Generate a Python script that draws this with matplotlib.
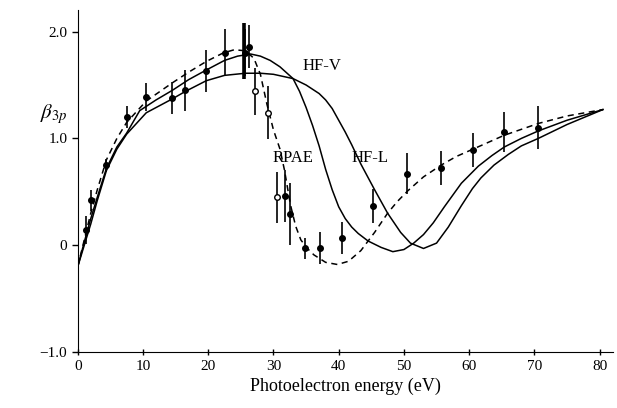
import numpy as np
import matplotlib; matplotlib.use('Agg')
import matplotlib.pyplot as plt

plt.rcParams['font.family'] = ['Liberation Serif', 'DejaVu Serif']
plt.rcParams['mathtext.fontset'] = 'stix'

# ---- theory curves ----
hfv_x = [0, 1, 2, 3, 4.4, 6, 7.5, 9.5, 12, 14.5, 17, 19.7, 22.5, 24.5, 26.5, 28, 29.5, 31,
         33, 34, 35, 36, 37, 38, 39, 40, 41, 42, 43, 44.5, 46.5, 48.3, 50, 51.5, 53, 54.5,
         56.2, 58.8, 61.4, 63.5, 65.4, 68, 70.6, 75, 80.5]
hfv_y = [-0.2, 0.03, 0.25, 0.45, 0.72, 0.92, 1.05, 1.26, 1.36, 1.45, 1.55, 1.64, 1.73, 1.77,
         1.79, 1.77, 1.73, 1.67, 1.56, 1.44, 1.29, 1.12, 0.93, 0.71, 0.52, 0.36, 0.25, 0.17,
         0.11, 0.04, -0.02, -0.06, -0.04, 0.02, 0.1, 0.21, 0.36, 0.58, 0.74, 0.84, 0.92,
         1.0, 1.07, 1.17, 1.27]

hfl_x = [0, 1, 2, 3, 4.4, 6, 7.5, 10.5, 14.5, 16.5, 19.7, 22.5, 25.7, 28, 30, 33, 35, 37,
         38, 39, 40, 41, 42, 43.4, 45.5, 47.5, 49.5, 51, 53, 55, 56.8, 58.8, 60.5, 61.8,
         63.8, 66, 68, 70.6, 75, 80.5]
hfl_y = [-0.2, 0.0, 0.2, 0.42, 0.7, 0.9, 1.04, 1.24, 1.37, 1.44, 1.54, 1.59, 1.61, 1.61,
         1.6, 1.56, 1.5, 1.42, 1.36, 1.28, 1.17, 1.06, 0.94, 0.76, 0.52, 0.3, 0.12, 0.02,
         -0.03, 0.02, 0.17, 0.37, 0.53, 0.63, 0.75, 0.85, 0.93, 1.0, 1.13, 1.27]

rpae_x = [0, 1, 2, 3, 4.4, 6, 7.5, 10.5, 14.5, 17, 19.7, 22.3, 24, 25.7, 27, 28, 29, 30,
          31, 31.7, 32.6, 33.4, 34.2, 35.2, 36.2, 38, 39.8, 41.5, 43.4, 45.5, 47.5, 49,
          50.6, 53, 55.7, 58, 60.6, 65.4, 70.6, 75, 80.5]
rpae_y = [-0.2, 0.05, 0.3, 0.52, 0.8, 1.0, 1.15, 1.35, 1.52, 1.62, 1.72, 1.8, 1.83, 1.82,
          1.75, 1.6, 1.32, 1.08, 0.9, 0.7, 0.38, 0.18, 0.05, -0.03, -0.09, -0.16, -0.18,
          -0.15, -0.05, 0.12, 0.3, 0.41, 0.51, 0.64, 0.75, 0.83, 0.9, 1.03, 1.14, 1.21, 1.27]

# ---- experimental points ----
pts_x = [1.2, 2.0, 4.4, 7.5, 10.5, 14.5, 16.5, 19.7, 22.5, 25.7, 26.2,
         31.8, 32.5, 34.8, 37.1, 40.5, 45.3, 50.5, 55.7, 60.6, 65.4, 70.6]
pts_y = [0.14, 0.42, 0.75, 1.2, 1.39, 1.38, 1.45, 1.63, 1.80, 1.80, 1.86,
         0.46, 0.29, -0.03, -0.03, 0.07, 0.37, 0.67, 0.72, 0.89, 1.06, 1.10]
pts_err = [0.13, 0.1, 0.06, 0.1, 0.13, 0.15, 0.19, 0.2, 0.22, 0.22, 0.2,
           0.24, 0.29, 0.1, 0.15, 0.15, 0.16, 0.19, 0.16, 0.16, 0.19, 0.2]

open_x = [27.2, 29.1, 30.6]
open_y = [1.44, 1.24, 0.45]
open_err = [0.22, 0.25, 0.24]

fig = plt.figure(figsize=(6.17, 4.08), dpi=100)
ax = fig.add_axes([0.126, 0.137, 0.867, 0.838])

ax.plot(hfv_x, hfv_y, color='black', lw=1.1)
ax.plot(hfl_x, hfl_y, color='black', lw=1.1)
ax.plot(rpae_x, rpae_y, color='black', lw=1.1, ls=(0, (4, 3)))

ax.errorbar(pts_x, pts_y, yerr=pts_err, fmt='o', color='black', ms=4,
            elinewidth=1.2, capsize=0)
ax.errorbar([25.5], [1.82], yerr=[0.26], fmt='none', ecolor='black', elinewidth=2.6, capsize=0)
ax.errorbar(open_x, open_y, yerr=open_err, fmt='o', color='black', mfc='white', ms=4,
            mew=1.0, elinewidth=1.2, capsize=0)

ax.text(37.4, 1.68, 'HF-V', fontsize=12, ha='center', va='center')
ax.text(33.0, 0.82, 'RPAE', fontsize=12, ha='center', va='center')
ax.text(44.8, 0.82, 'HF-L', fontsize=12, ha='center', va='center')

ax.set_xlim(0, 82)
ax.set_ylim(-1.0, 2.2)
ax.set_xticks(np.arange(0, 81, 10))
ax.set_yticks([-1.0, 0, 1.0, 2.0])
ax.set_yticklabels(['\u22121.0', '0', '1.0', '2.0'])
ax.spines['top'].set_visible(False)
ax.spines['right'].set_visible(False)
ax.tick_params(axis='y', direction='out', length=4, labelsize=11, width=1)
ax.tick_params(axis='x', direction='inout', length=5, labelsize=11, width=1)

ax.set_xlabel('Photoelectron energy (eV)', fontsize=13, labelpad=3)
ax.set_ylabel(r'$\beta_{3p}$', fontsize=15, rotation=0)
ax.yaxis.set_label_coords(-0.045, 0.66)

fig.savefig('out.png', dpi=100)
